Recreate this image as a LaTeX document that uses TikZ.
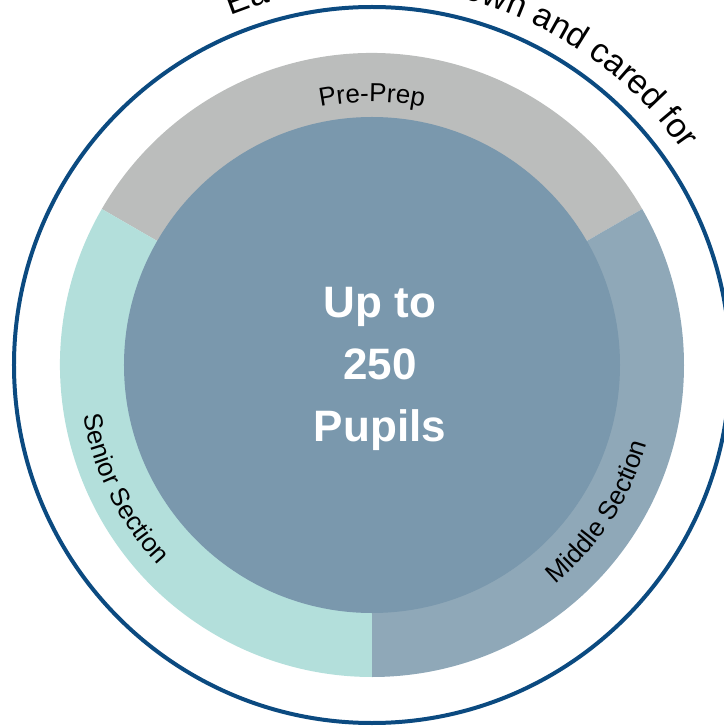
\documentclass[tikz,border=0pt]{standalone}
\usepackage{fontspec}
\setmainfont{Liberation Sans}
\usetikzlibrary{decorations,decorations.text}
\definecolor{prepgray}{HTML}{BBBDBC}
\definecolor{seniorteal}{HTML}{B3DFDB}
\definecolor{middleblue}{HTML}{8FA8B8}
\definecolor{coreblue}{HTML}{7A98AD}
\definecolor{edgeblue}{HTML}{0B4A80}
\newcommand{\ringfont}{\fontsize{26bp}{30bp}\selectfont}
\newcommand{\edgefont}{\fontsize{34bp}{40bp}\selectfont}

\begin{document}
\begin{tikzpicture}[ringtext/.style={decorate,decoration={text along path,text align=center,text={|\ringfont|#1}}}]
        \clip (-372bp,-361bp) rectangle (352bp,365bp);
        \coordinate (hub) at (0,0);
        \fill[prepgray](hub)--(30:312bp) arc[start angle=30,end angle=150,radius=312bp]--cycle;
        \fill[seniorteal](hub)--(150:312bp) arc[start angle=150,end angle=270,radius=312bp]--cycle;
        \fill[middleblue](hub)--(-90:312bp) arc[start angle=-90,end angle=30,radius=312bp]--cycle;
        \fill[coreblue](hub) circle[radius=248bp];
        \draw[edgeblue,line width=4bp](hub) circle[radius=358bp];
        \path[ringtext={Pre-Prep}](150:263bp) arc[start angle=150,end angle=30,radius=263bp];
        \path[ringtext={Senior Section}](146:293bp) arc[start angle=146,end angle=267,radius=293bp];
        \path[ringtext={Middle Section}](-93:286bp) arc[start angle=-93,end angle=27,radius=286bp];
        \path[decorate,decoration={text along path,text align=left,text={|\edgefont|Each child is known and cared for}}](112:377bp) arc[start angle=112,end angle=20,radius=377bp];
        \node[align=center,text=white,font=\bfseries\fontsize{44bp}{62bp}\selectfont] (pupils) at (8bp,-4bp) {Up to\\250\\Pupils};
    \end{tikzpicture}
\end{document}
